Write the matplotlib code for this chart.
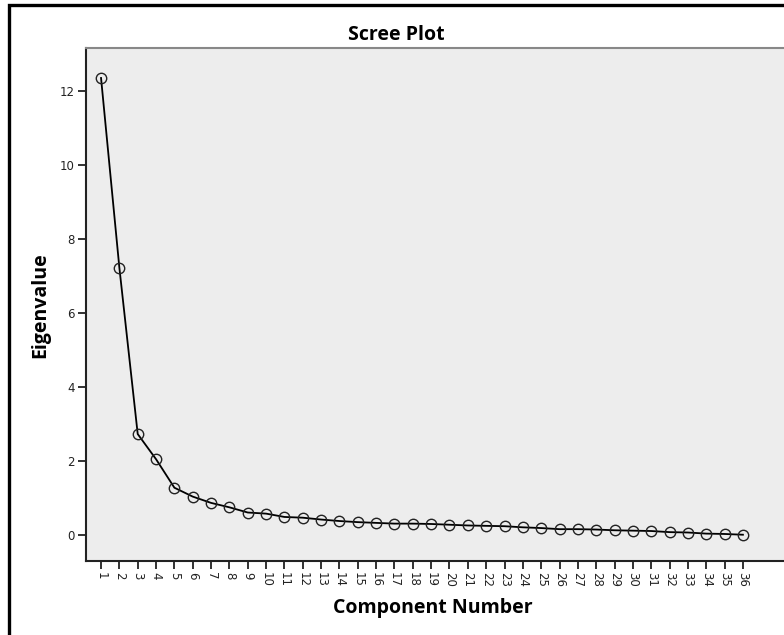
import numpy as np
import matplotlib.pyplot as plt
from matplotlib.patches import Rectangle

plt.rcParams.update({
    'font.family': 'DejaVu Sans',
})

components = list(range(1, 37))
eigenvalues = [12.35, 7.22, 2.73, 2.05, 1.28, 1.04, 0.87, 0.75, 0.61, 0.58,
               0.49, 0.47, 0.42, 0.38, 0.35, 0.33, 0.31, 0.31, 0.30, 0.28,
               0.26, 0.25, 0.24, 0.21, 0.19, 0.16, 0.16, 0.15, 0.13, 0.12,
               0.11, 0.08, 0.07, 0.04, 0.03, 0.01]
y_ticks = [0, 2, 4, 6, 8, 10, 12]

W, H = 784, 635
fig = plt.figure(figsize=(W / 100, H / 100), dpi=100)
fig.patch.set_facecolor('white')

# outer frame (runs off the right and bottom edges)
fig.patches.append(Rectangle((9 / W, -0.05), 1.2, 1 - 5 / H + 0.05,
                             transform=fig.transFigure, fill=False,
                             edgecolor='black', linewidth=2.4))

ax = fig.add_axes([86 / W, 1 - 561 / H, (W - 86) / W, (561 - 48) / H])
ax.set_facecolor('#ededed')

ax.plot(components, eigenvalues, color='black', linewidth=1.3,
        marker='o', markersize=7.5, markerfacecolor='none',
        markeredgecolor='#222222', markeredgewidth=1.0)

ax.set_xlim(0.18, 38.24)
ax.set_ylim(-0.70, 13.16)
ax.set_xticks(components)
ax.set_xticklabels([str(c) for c in components], rotation=-90, fontsize=8.5,
                   color='#222222')
ax.set_yticks(y_ticks)
ax.set_yticklabels([str(v) for v in y_ticks], fontsize=8.5, color='#222222')
ax.tick_params(axis='both', direction='out', length=6, width=1.3,
               color='#222222', pad=2)

ax.spines['right'].set_visible(False)
ax.spines['top'].set_color('#888888')
ax.spines['top'].set_linewidth(1.5)
for s in ['left', 'bottom']:
    ax.spines[s].set_linewidth(1.5)
    ax.spines[s].set_color('#222222')

fig.text(396 / W, 1 - 35 / H, 'Scree Plot', ha='center', va='center',
         fontsize=14, fontweight='bold', family='Open Sans')
fig.text(40 / W, 1 - 305 / H, 'Eigenvalue', ha='center', va='center',
         rotation=90, fontsize=14, fontweight='bold', family='Open Sans')
fig.text(433 / W, 1 - 608 / H, 'Component Number', ha='center', va='center',
         fontsize=14, fontweight='bold', family='Open Sans')

fig.savefig('out.png', dpi=100)
